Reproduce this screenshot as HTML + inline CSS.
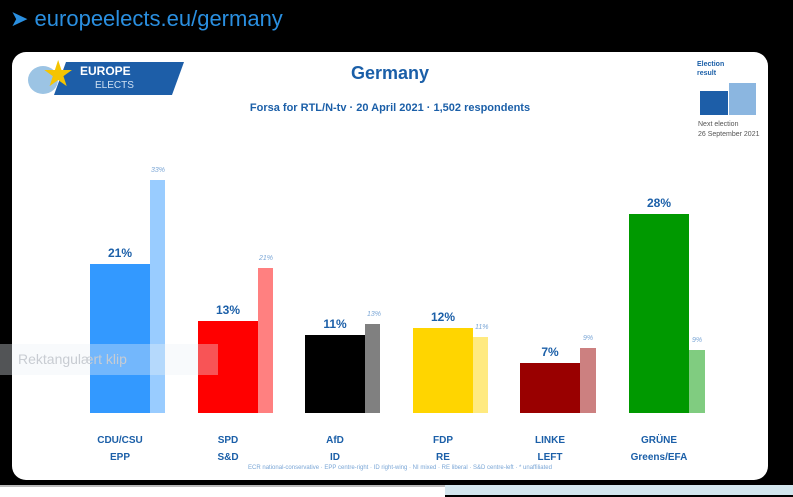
<!DOCTYPE html>
<html><head><meta charset="utf-8"><style>
body{margin:0;width:793px;height:495px;background:#000;position:relative;overflow:hidden;font-family:"Liberation Sans",sans-serif}
.a{position:absolute}
.card{left:12px;top:52px;width:756px;height:428px;background:#fff;border-radius:14px}
.t{color:#1b5fa8;font-weight:bold;text-align:center}
.v{position:absolute;font-size:12px;font-weight:bold;color:#1b5fa8;text-align:center;width:60px}
.s{position:absolute;font-size:7px;color:#7aa6d6;font-style:italic}
.n{position:absolute;font-size:10px;font-weight:bold;color:#1b5fa8;text-align:center;width:100px;line-height:17px}
</style></head><body>
<div class="a" style="left:10px;top:6px;color:#2a8fe0;font-size:22px">➤ <span>europeelects.eu/germany</span></div>
<div class="a card"></div>
<div class="a" style="left:60px;top:62px;width:118px;height:33px;background:#1d5ea8;transform:skewX(-20deg)"></div>
<div class="a" style="left:28px;top:66px;width:30px;height:28px;border-radius:50%;background:#9cc4e4"></div>
<div class="a" style="left:42px;top:54px;color:#f5c400;font-size:36px;line-height:40px">★</div>
<div class="a" style="left:80px;top:64px;color:#fff;font-size:12px;font-weight:bold">EUROPE</div>
<div class="a" style="left:95px;top:80px;color:#cfe0f3;font-size:10px">ELECTS</div>
<div class="a t" style="left:290px;top:63px;width:200px;font-size:18px">Germany</div>
<div class="a t" style="left:200px;top:102px;width:380px;font-size:11px">Forsa for RTL/N-tv · 20 April 2021 · 1,502 respondents</div>
<div class="a" style="left:697px;top:60px;font-size:7px;color:#1b5fa8;font-weight:bold;line-height:9px">Election<br>result</div>
<div class="a" style="left:700px;top:91px;width:28px;height:24px;background:#1d5ea8"></div>
<div class="a" style="left:729px;top:83px;width:27px;height:32px;background:#8bb6e0"></div>
<div class="a" style="left:698px;top:120px;font-size:7px;color:#555;line-height:10px">Next election<br>26 September 2021</div>

<div class="a" style="left:90px;top:264px;width:60px;height:149px;background:#3399ff"></div>
<div class="a" style="left:150px;top:180px;width:15px;height:233px;background:#99ccff"></div>
<div class="a" style="left:198px;top:321px;width:60px;height:92px;background:#ff0000"></div>
<div class="a" style="left:258px;top:268px;width:15px;height:145px;background:#ff8080"></div>
<div class="a" style="left:305px;top:335px;width:60px;height:78px;background:#000"></div>
<div class="a" style="left:365px;top:324px;width:15px;height:89px;background:#808080"></div>
<div class="a" style="left:413px;top:328px;width:60px;height:85px;background:#ffd500"></div>
<div class="a" style="left:473px;top:337px;width:15px;height:76px;background:#ffea80"></div>
<div class="a" style="left:520px;top:363px;width:60px;height:50px;background:#990000"></div>
<div class="a" style="left:580px;top:348px;width:16px;height:65px;background:#cc8080"></div>
<div class="a" style="left:629px;top:214px;width:60px;height:199px;background:#009900"></div>
<div class="a" style="left:689px;top:350px;width:16px;height:63px;background:#80cc80"></div>

<div class="v" style="left:90px;top:246px">21%</div>
<div class="v" style="left:198px;top:303px">13%</div>
<div class="v" style="left:305px;top:317px">11%</div>
<div class="v" style="left:413px;top:310px">12%</div>
<div class="v" style="left:520px;top:345px">7%</div>
<div class="v" style="left:629px;top:196px">28%</div>
<div class="s" style="left:151px;top:167px">33%</div>
<div class="s" style="left:259px;top:255px">21%</div>
<div class="s" style="left:367px;top:311px">13%</div>
<div class="s" style="left:475px;top:324px">11%</div>
<div class="s" style="left:583px;top:335px">9%</div>
<div class="s" style="left:692px;top:337px">9%</div>

<div class="n" style="left:70px;top:432px">CDU/CSU<br>EPP</div>
<div class="n" style="left:178px;top:432px">SPD<br>S&amp;D</div>
<div class="n" style="left:285px;top:432px">AfD<br>ID</div>
<div class="n" style="left:393px;top:432px">FDP<br>RE</div>
<div class="n" style="left:500px;top:432px">LINKE<br>LEFT</div>
<div class="n" style="left:609px;top:432px">GRÜNE<br>Greens/EFA</div>
<div class="a" style="left:190px;top:465px;width:420px;text-align:center;font-size:6px;color:#7aa6d6;white-space:nowrap">ECR national-conservative · EPP centre-right · ID right-wing · NI mixed · RE liberal · S&amp;D centre-left · * unaffiliated</div>

<div class="a" style="left:0;top:344px;width:218px;height:31px;background:rgba(235,240,245,0.35)"></div>
<div class="a" style="left:18px;top:351px;font-size:14px;color:#c8ccd2">Rektangulært klip</div>
<div class="a" style="left:0;top:485px;width:445px;height:10px;background:#fff;border-top:2px solid #bbb"></div>
<div class="a" style="left:445px;top:485px;width:348px;height:10px;background:#d3e6ee"></div>
</body></html>
